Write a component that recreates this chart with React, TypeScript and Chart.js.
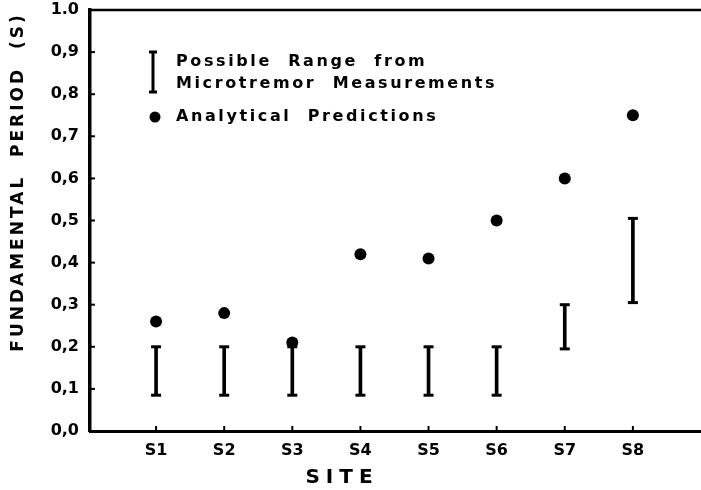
import React, { useEffect, useRef } from "react";
import { Chart, registerables } from "chart.js";

Chart.register(...registerables);

const categories = ["S1", "S2", "S3", "S4", "S5", "S6", "S7", "S8"];
const rangeLow = [0.085, 0.085, 0.085, 0.085, 0.085, 0.085, 0.195, 0.305];
const rangeHigh = [0.2, 0.2, 0.2, 0.2, 0.2, 0.2, 0.3, 0.505];
const predicted = [0.26, 0.28, 0.21, 0.42, 0.41, 0.5, 0.6, 0.75];
const yTickLabels = ["0,0", "0,1", "0,2", "0,3", "0,4", "0,5", "0,6", "0,7", "0,8", "0,9", "1.0"];

const yTitle = "FUNDAMENTAL  PERIOD  (S)";
const xTitle = "SITE";
const legendRangeLines = ["Possible  Range  from", "Microtremor  Measurements"];
const legendPredLabel = "Analytical  Predictions";

const FONT = "'DejaVu Sans', sans-serif";

const decor = {
  id: "decor",
  afterDraw(chart: any) {
    const { ctx, chartArea: a, scales } = chart;
    const xs = scales.x;
    const ys = scales.y;
    const line = (x1: number, y1: number, x2: number, y2: number) => {
      ctx.beginPath();
      ctx.moveTo(x1, y1);
      ctx.lineTo(x2, y2);
      ctx.stroke();
    };
    ctx.save();
    ctx.strokeStyle = "#000";
    ctx.fillStyle = "#000";
    // top frame line
    ctx.lineWidth = 2.5;
    line(a.left, a.top, chart.width, a.top);
    // inward tick marks
    ctx.lineWidth = 2;
    for (let i = 1; i < yTickLabels.length; i++) {
      const py = ys.getPixelForValue(i / 10);
      line(a.left, py, a.left + 5, py);
    }
    categories.forEach((_, i) => {
      const px = xs.getPixelForValue(i + 1);
      line(px, a.bottom, px, a.bottom - 5);
    });
    // range caps
    const meta = chart.getDatasetMeta(0);
    ctx.lineWidth = 3;
    meta.data.forEach((el: any) => {
      const p = el.getProps(["x", "y", "base"], true);
      line(p.x - 5, p.y, p.x + 5, p.y);
      line(p.x - 5, p.base, p.x + 5, p.base);
    });
    // legend
    const lx = 153;
    ctx.lineWidth = 3;
    line(lx, 52, lx, 92);
    line(lx - 4, 52, lx + 4, 52);
    line(lx - 4, 92, lx + 4, 92);
    ctx.beginPath();
    ctx.arc(155, 117, 5.5, 0, Math.PI * 2);
    ctx.fill();
    ctx.font = `bold 16px ${FONT}`;
    (ctx as any).letterSpacing = "2.6px";
    ctx.textAlign = "left";
    ctx.textBaseline = "middle";
    ctx.fillText(legendRangeLines[0], 176, 62);
    ctx.fillText(legendRangeLines[1], 176, 84);
    ctx.fillText(legendPredLabel, 176, 117);
    // axis titles
    ctx.textAlign = "center";
    ctx.font = `bold 20px ${FONT}`;
    (ctx as any).letterSpacing = "6px";
    ctx.fillText(xTitle, 342, 478);
    ctx.translate(19, 182);
    ctx.rotate(-Math.PI / 2);
    ctx.font = `bold 17px ${FONT}`;
    (ctx as any).letterSpacing = "3px";
    ctx.fillText(yTitle, 0, 0);
    ctx.restore();
  },
};

export default function App() {
  const ref = useRef<HTMLCanvasElement | null>(null);
  useEffect(() => {
    document.body.style.margin = "0";
    const chart = new Chart(ref.current as HTMLCanvasElement, {
      type: "bar",
      data: {
        datasets: [
          {
            type: "bar",
            label: "Possible Range from Microtremor Measurements",
            data: categories.map((_, i) => ({ x: i + 1, y: [rangeLow[i], rangeHigh[i]] })) as any,
            backgroundColor: "#000",
            borderWidth: 0,
            barThickness: 3,
            grouped: false,
            order: 1,
          } as any,
          {
            type: "scatter",
            label: "Analytical Predictions",
            data: predicted.map((v, i) => ({ x: i + 1, y: v })),
            backgroundColor: "#000",
            borderColor: "#000",
            borderWidth: 0,
            pointRadius: 6,
            order: 0,
          } as any,
        ],
      },
      options: {
        animation: false,
        responsive: false,
        layout: { autoPadding: false, padding: { top: 10, left: 0, right: 0, bottom: 0 } },
        plugins: { legend: { display: false }, tooltip: { enabled: false } },
        scales: {
          x: {
            type: "linear",
            offset: false,
            min: 0.03,
            max: 9,
            grid: { display: false, drawTicks: false, offset: false },
            border: { display: true, color: "#000", width: 3 },
            ticks: {
              padding: 10,
              color: "#000",
              font: { family: FONT, size: 16, weight: "bold" },
              callback: (v: any) => categories[Math.round(Number(v)) - 1] ?? "",
            },
            afterBuildTicks: (s: any) => {
              s.ticks = categories.map((_, i) => ({ value: i + 1 }));
            },
            afterFit: (s: any) => {
              s.height = 59;
              s.paddingLeft = 0;
              s.paddingRight = 0;
            },
          },
          y: {
            type: "linear",
            min: 0,
            max: 1,
            grid: { display: false, drawTicks: false },
            border: { display: true, color: "#000", width: 3.5 },
            ticks: {
              stepSize: 0.1,
              padding: 11,
              color: "#000",
              font: { family: FONT, size: 16, weight: "bold" },
              callback: (v: any) => yTickLabels[Math.round(Number(v) * 10)] ?? "",
            },
            afterFit: (s: any) => {
              s.width = 90;
              s.paddingTop = 0;
              s.paddingBottom = 0;
            },
          },
        },
      } as any,
      plugins: [decor],
    });
    return () => chart.destroy();
  }, []);
  return (
    <div style={{ position: "absolute", left: 0, top: 0, width: 701, height: 490, background: "#fff" }}>
      <canvas ref={ref} width={701} height={490} style={{ display: "block" }} />
    </div>
  );
}
